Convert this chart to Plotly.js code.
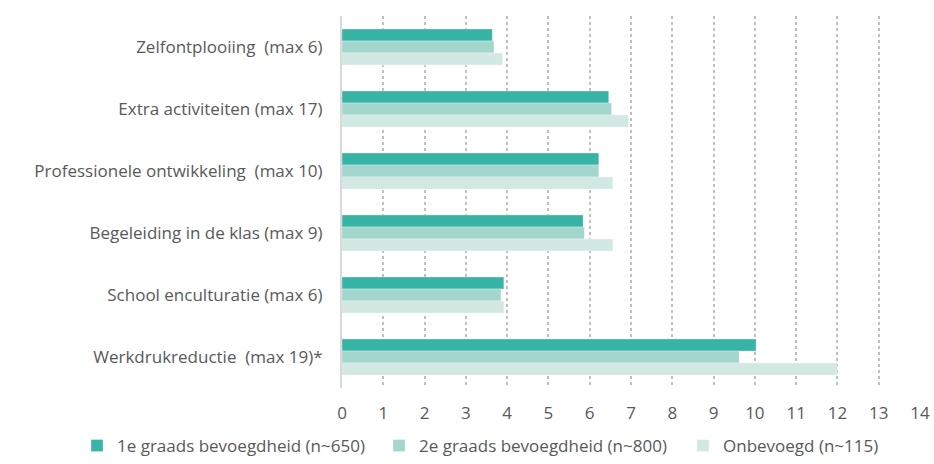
<!DOCTYPE html>
<html>
<head>
<meta charset="utf-8">
<script src="https://cdn.plot.ly/plotly-3.0.1.min.js"></script>
<style>html,body{margin:0;padding:0;background:#fff;}#chart{width:934px;height:464px;}</style>
</head>
<body>
<div id="chart"></div>
<script>
const categories = [
  "Zelfontplooiing\u00a0 (max 6)",
  "Extra activiteiten (max 17)",
  "Professionele ontwikkeling\u00a0 (max 10)",
  "Begeleiding in de klas (max 9)",
  "School enculturatie (max 6)",
  "Werkdrukreductie\u00a0 (max 19)*"
];
const seriesNames = [
  "1e graads bevoegdheid (n~650)",
  "2e graads bevoegdheid (n~800)",
  "Onbevoegd (n~115)"
];
const eersteGraads = [3.64, 6.46, 6.22, 5.84, 3.92, 10.03];
const tweedeGraads = [3.68, 6.53, 6.22, 5.87, 3.85, 9.62];
const onbevoegd   = [3.89, 6.94, 6.56, 6.56, 3.92, 11.99];
const xTicks = [0,1,2,3,4,5,6,7,8,9,10,11,12,13,14];

const colors = ["#38B4A7", "#A3D6CD", "#D1E9E2"];
const values = [eersteGraads, tweedeGraads, onbevoegd];
const legendIds = ["legend", "legend2", "legend3"];
const legendX = [77, 379, 683];

const traces = values.map((v, i) => ({
  type: "bar",
  orientation: "h",
  name: seriesNames[i],
  x: v,
  y: categories,
  legend: legendIds[i],
  marker: {color: colors[i], line: {color: "rgba(255,255,255,0.6)", width: 0.5}},
  hoverinfo: "x+name"
}));

const FONT = "'Open Sans', Lato, sans-serif";

const layout = {
  width: 934, height: 464,
  margin: {l: 342, r: 14, t: 16, b: 76},
  paper_bgcolor: "#fff", plot_bgcolor: "#fff",
  barmode: "group",
  bargap: 0.42,
  bargroupgap: 0,
  font: {family: FONT, color: "#595959", size: 17},
  xaxis: {
    range: [0, 14],
    tickvals: xTicks,
    ticktext: xTicks.map(String),
    showgrid: true,
    gridcolor: "#BFBFBF",
    gridwidth: 2,
    griddash: "dot",
    zeroline: false,
    showline: false,
    ticks: "",
    ticklabelstandoff: 13,
    tickfont: {family: FONT, size: 17, color: "#595959"},
    fixedrange: true
  },
  yaxis: {
    autorange: "reversed",
    showgrid: false,
    zeroline: false,
    showline: true,
    linecolor: "#D9D9D9",
    linewidth: 2,
    ticks: "",
    ticklabelstandoff: 14,
    tickfont: {family: FONT, size: 17, color: "#595959"},
    fixedrange: true
  },
  showlegend: true
};

legendIds.forEach((id, i) => {
  layout[id] = {
    orientation: "h",
    xref: "container", yref: "container",
    x: legendX[i] / 934, xanchor: "left",
    y: -0.018, yanchor: "bottom",
    font: {family: FONT, size: 17, color: "#595959"},
    bgcolor: "rgba(0,0,0,0)"
  };
});

Plotly.newPlot("chart", traces, layout, {displayModeBar: false, staticPlot: true});
</script>
</body>
</html>
